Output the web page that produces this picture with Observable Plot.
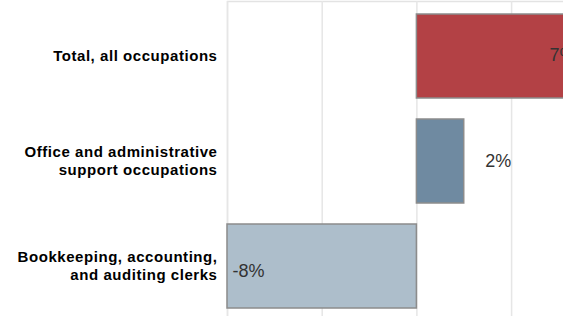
<!DOCTYPE html>
<html>
<head>
<meta charset="utf-8">
<script src="https://cdn.jsdelivr.net/npm/d3@7"></script>
<script src="https://cdn.jsdelivr.net/npm/@observablehq/plot@0.6"></script>
<style>
  html, body { margin: 0; padding: 0; background: #fff; }
  #c { width: 563px; height: 316px; overflow: hidden; position: relative; }
  #c svg { display: block; max-width: none; }
</style>
</head>
<body>
<div id="c"></div>
<script>
const categories = [
  "Total, all occupations",
  "Office and administrative\nsupport occupations",
  "Bookkeeping, accounting,\nand auditing clerks"
];
const values = [7, 2, -8];
const colors = ["#b34145", "#6f8aa1", "#adbecb"];
const gridTicks = [-8, -4, 0, 4, 8];

const data = categories.map((c, i) => ({category: c, value: values[i], color: colors[i]}));
const label = d => `${d.value}%`;

const chart = Plot.plot({
  width: 620,
  height: 318,
  marginLeft: 227,
  marginRight: 0,
  marginTop: 1,
  marginBottom: 0,
  style: {fontFamily: "'Liberation Sans', Arial, sans-serif", background: "#fff"},
  x: {domain: [-8, 8.6], axis: null},
  y: {domain: categories, range: [2.5, 319.5], paddingInner: 0.2, paddingOuter: 0.1, axis: null},
  color: {type: "identity"},
  marks: [
    Plot.frame({stroke: "#e3e3e3", strokeWidth: 1.5}),
    Plot.ruleX(gridTicks, {stroke: "#e6e6e6", strokeWidth: 1.5}),
    Plot.barX(data, {x: "value", y: "category", fill: "color", stroke: "#8c8c8c", strokeWidth: 1.5}),
    Plot.text(data.filter(d => d.value >= 5), {x: "value", y: "category", text: label, textAnchor: "end", dx: -7, dy: -1, fontSize: 18, fill: "#333"}),
    Plot.text(data.filter(d => d.value > 0 && d.value < 5), {x: "value", y: "category", text: label, textAnchor: "start", dx: 21, fontSize: 18, fill: "#333"}),
    Plot.text(data.filter(d => d.value < 0), {x: "value", y: "category", text: label, textAnchor: "start", dx: 5, dy: 5, fontSize: 18, fill: "#333"}),
    Plot.text(data, {y: "category", text: "category", frameAnchor: "left", textAnchor: "end", dx: -10, dy: -1, fontSize: 15, fontWeight: "bold", lineHeight: 1.18, fill: "#000"})
  ]
});
const textGroups = chart.querySelectorAll('g[aria-label="text"]');
const catGroup = textGroups[textGroups.length - 1];
if (catGroup) catGroup.style.letterSpacing = "0.55px";
document.getElementById("c").appendChild(chart);
</script>
</body>
</html>
